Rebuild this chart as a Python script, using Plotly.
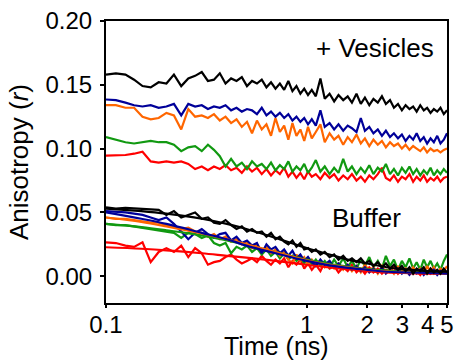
import plotly.graph_objects as go
import math

# Time grid (ns)
time = [0.100, 0.112, 0.125, 0.138, 0.152, 0.167, 0.183, 0.200, 0.218, 0.237,
        0.257, 0.278, 0.300, 0.322, 0.345, 0.369, 0.394, 0.420, 0.447, 0.475,
        0.504, 0.534, 0.565, 0.597, 0.630, 0.664, 0.699, 0.735, 0.772, 0.810,
        0.849, 0.889, 0.930, 0.972, 1.015, 1.06, 1.11, 1.17, 1.23, 1.30,
        1.37, 1.44, 1.52, 1.60, 1.68, 1.77, 1.86, 1.95, 2.05, 2.15,
        2.26, 2.37, 2.48, 2.60, 2.72, 2.85, 2.98, 3.11, 3.25, 3.39,
        3.53, 3.68, 3.83, 3.98, 4.14, 4.30, 4.47, 4.64, 4.82, 5.00]

# + Vesicles
ves_black = [0.158, 0.159, 0.158, 0.154, 0.149, 0.148, 0.152, 0.151, 0.158, 0.149,
             0.155, 0.157, 0.160, 0.153, 0.154, 0.159, 0.151, 0.155, 0.153, 0.156,
             0.149, 0.153, 0.151, 0.154, 0.148, 0.152, 0.147, 0.151, 0.146, 0.153,
             0.145, 0.149, 0.143, 0.147, 0.142, 0.146, 0.141, 0.155, 0.139, 0.143,
             0.137, 0.142, 0.138, 0.141, 0.136, 0.143, 0.135, 0.140, 0.134, 0.139,
             0.136, 0.141, 0.135, 0.138, 0.132, 0.135, 0.130, 0.134, 0.131, 0.133,
             0.129, 0.134, 0.130, 0.132, 0.128, 0.131, 0.129, 0.132, 0.127, 0.130]
ves_blue = [0.1385, 0.138, 0.136, 0.134, 0.133, 0.134, 0.132, 0.133, 0.135, 0.126,
            0.135, 0.133, 0.134, 0.131, 0.133, 0.132, 0.134, 0.130, 0.132, 0.129,
            0.131, 0.130, 0.127, 0.132, 0.126, 0.129, 0.125, 0.128, 0.124, 0.127,
            0.122, 0.125, 0.121, 0.124, 0.119, 0.123, 0.118, 0.130, 0.117, 0.120,
            0.115, 0.119, 0.114, 0.118, 0.116, 0.113, 0.124, 0.114, 0.117, 0.112,
            0.115, 0.110, 0.114, 0.109, 0.112, 0.108, 0.111, 0.106, 0.110, 0.107,
            0.112, 0.106, 0.109, 0.104, 0.108, 0.105, 0.110, 0.104, 0.107, 0.112]
ves_orange = [0.134, 0.134, 0.132, 0.132, 0.125, 0.123, 0.124, 0.128, 0.126, 0.115,
              0.131, 0.125, 0.126, 0.124, 0.127, 0.122, 0.125, 0.120, 0.123, 0.117,
              0.121, 0.112, 0.122, 0.115, 0.119, 0.110, 0.124, 0.113, 0.118, 0.107,
              0.120, 0.110, 0.115, 0.106, 0.117, 0.108, 0.113, 0.119, 0.105, 0.112,
              0.107, 0.110, 0.103, 0.109, 0.105, 0.111, 0.104, 0.108, 0.102, 0.107,
              0.103, 0.106, 0.101, 0.105, 0.102, 0.104, 0.100, 0.103, 0.099, 0.102,
              0.100, 0.098, 0.101, 0.097, 0.100, 0.098, 0.099, 0.097, 0.099, 0.100]
ves_green = [0.109, 0.107, 0.105, 0.104, 0.105, 0.106, 0.105, 0.105, 0.103, 0.098,
             0.101, 0.102, 0.098, 0.103, 0.099, 0.094, 0.086, 0.092, 0.086, 0.089,
             0.084, 0.090, 0.086, 0.088, 0.084, 0.089, 0.083, 0.087, 0.084, 0.090,
             0.082, 0.086, 0.083, 0.088, 0.081, 0.085, 0.091, 0.082, 0.086, 0.080,
             0.085, 0.081, 0.092, 0.082, 0.086, 0.080, 0.085, 0.081, 0.087, 0.080,
             0.085, 0.082, 0.088, 0.080, 0.084, 0.079, 0.085, 0.081, 0.086, 0.080,
             0.084, 0.079, 0.083, 0.080, 0.085, 0.079, 0.083, 0.080, 0.084, 0.081]
ves_red = [0.0945, 0.0945, 0.095, 0.096, 0.0975, 0.090, 0.089, 0.090, 0.089, 0.090,
           0.088, 0.084, 0.086, 0.083, 0.086, 0.084, 0.087, 0.083, 0.085, 0.081,
           0.086, 0.082, 0.085, 0.080, 0.084, 0.079, 0.083, 0.080, 0.085, 0.078,
           0.082, 0.077, 0.081, 0.076, 0.082, 0.078, 0.080, 0.076, 0.081, 0.077,
           0.080, 0.075, 0.079, 0.076, 0.080, 0.075, 0.078, 0.074, 0.079, 0.076,
           0.080, 0.085, 0.077, 0.075, 0.079, 0.074, 0.078, 0.076, 0.080, 0.074,
           0.078, 0.075, 0.079, 0.074, 0.077, 0.075, 0.078, 0.074, 0.077, 0.078]

# Buffer (data)
buf_black = [0.054, 0.053, 0.0535, 0.053, 0.053, 0.0525, 0.052, 0.048, 0.051, 0.046,
             0.048, 0.050, 0.045, 0.046, 0.042, 0.041, 0.044, 0.040, 0.037, 0.039,
             0.035, 0.037, 0.034, 0.035, 0.031, 0.034, 0.029, 0.031, 0.027, 0.025,
             0.028, 0.023, 0.026, 0.021, 0.022, 0.019, 0.021, 0.017, 0.019, 0.015,
             0.017, 0.013, 0.016, 0.012, 0.014, 0.011, 0.014, 0.010, 0.012, 0.008,
             0.011, 0.007, 0.010, 0.006, 0.009, 0.005, 0.008, 0.004, 0.007, 0.002,
             0.006, 0.004, 0.007, 0.002, 0.006, 0.003, 0.005, 0.002, 0.006, 0.003]
buf_blue = [0.051, 0.0505, 0.050, 0.049, 0.048, 0.046, 0.044, 0.046, 0.041, 0.035,
            0.029, 0.034, 0.037, 0.033, 0.030, 0.033, 0.034, 0.028, 0.031, 0.026,
            0.028, 0.024, 0.026, 0.018, 0.025, 0.021, 0.023, 0.018, 0.021, 0.016,
            0.020, 0.014, 0.017, 0.012, 0.015, 0.011, 0.008, 0.013, 0.009, 0.012,
            0.007, 0.010, 0.006, 0.009, 0.005, 0.008, 0.004, 0.007, 0.003, 0.006,
            0.003, 0.007, 0.002, 0.005, 0.003, 0.006, 0.002, 0.005, 0.001, 0.004,
            0.002, 0.005, 0.001, 0.004, 0.002, 0.005, 0.001, 0.004, 0.002, 0.003]
buf_orange = [0.046, 0.045, 0.045, 0.044, 0.043, 0.042, 0.042, 0.040, 0.039, 0.037,
              0.038, 0.035, 0.034, 0.031, 0.033, 0.029, 0.031, 0.027, 0.029, 0.025,
              0.027, 0.022, 0.025, 0.020, 0.023, 0.018, 0.021, 0.016, 0.019, 0.013,
              0.010, 0.017, 0.012, 0.015, 0.009, 0.013, 0.008, 0.012, 0.007, 0.011,
              0.006, 0.010, 0.005, 0.009, 0.004, 0.008, 0.003, 0.009, 0.004, 0.007,
              0.002, 0.008, 0.003, 0.006, 0.002, 0.008, 0.003, 0.006, 0.002, 0.007,
              0.003, 0.006, 0.002, 0.008, 0.003, 0.007, 0.002, 0.006, 0.004, 0.008]
buf_green = [0.041, 0.040, 0.040, 0.039, 0.038, 0.037, 0.036, 0.035, 0.034, 0.030,
             0.034, 0.033, 0.030, 0.032, 0.026, 0.024, 0.026, 0.018, 0.023, 0.021,
             0.024, 0.019, 0.022, 0.017, 0.021, 0.016, 0.019, 0.014, 0.018, 0.013,
             0.016, 0.012, 0.015, 0.010, 0.014, 0.009, 0.013, 0.008, 0.012, 0.007,
             0.013, 0.008, 0.014, 0.007, 0.012, 0.006, 0.013, 0.008, 0.015, 0.007,
             0.012, 0.006, 0.016, 0.008, 0.013, 0.005, 0.012, 0.007, 0.014, 0.006,
             0.011, 0.005, 0.013, 0.007, 0.012, 0.006, 0.010, 0.005, 0.012, 0.017]
buf_red = [0.0265, 0.026, 0.024, 0.023, 0.0265, 0.011, 0.019, 0.022, 0.019, 0.024,
           0.015, 0.022, 0.018, 0.009, 0.011, 0.012, 0.015, 0.017, 0.013, 0.010,
           0.012, 0.014, 0.011, 0.016, 0.012, 0.009, 0.013, 0.010, 0.014, 0.007,
           0.012, 0.009, 0.013, 0.006, 0.010, 0.005, 0.009, 0.004, 0.011, 0.006,
           0.008, 0.003, 0.007, 0.004, 0.009, 0.003, 0.006, 0.002, 0.007, 0.003,
           0.006, 0.002, 0.005, 0.004, 0.007, 0.002, 0.005, 0.003, 0.006, 0.002,
           0.004, 0.001, 0.005, 0.003, 0.006, 0.002, 0.004, 0.002, 0.005, 0.003]

# Buffer (fits)
fit_time = [0.1, 0.15, 0.2, 0.3, 0.4, 0.5, 0.7, 1.0, 1.3, 1.6, 2.0, 2.5, 3.0, 4.0, 5.0]
fit_black = [0.053, 0.051, 0.049, 0.045, 0.041, 0.037, 0.030, 0.022, 0.017, 0.013, 0.010, 0.007, 0.0055, 0.004, 0.0035]
fit_blue = [0.050, 0.045, 0.041, 0.034, 0.029, 0.024, 0.018, 0.012, 0.0085, 0.0065, 0.005, 0.0035, 0.003, 0.0025, 0.002]
fit_orange = [0.046, 0.0425, 0.039, 0.0335, 0.029, 0.025, 0.019, 0.0125, 0.009, 0.007, 0.005, 0.0038, 0.003, 0.0025, 0.002]
fit_green = [0.041, 0.0385, 0.036, 0.032, 0.028, 0.0245, 0.019, 0.013, 0.0095, 0.0075, 0.0055, 0.0045, 0.0035, 0.003, 0.0025]
fit_red = [0.0227, 0.0215, 0.0203, 0.018, 0.016, 0.0145, 0.012, 0.009, 0.0068, 0.0055, 0.004, 0.003, 0.0025, 0.002, 0.002]

x_tickvals = [0.1, 1, 2, 3, 4, 5]
x_ticktext = ["0.1", "1", "2", "3", "4", "5"]
x_minorvals = [0.2, 0.3, 0.4, 0.5, 0.6, 0.7, 0.8, 0.9]
y_tickvals = [0.00, 0.05, 0.10, 0.15, 0.20]
y_ticktext = ["0.00", "0.05", "0.10", "0.15", "0.20"]

BLACK = "#000000"
BLUE = "#000099"
ORANGE = "#ff6600"
GREEN = "#119911"
RED = "#ff0000"

FONT = "Liberation Sans, Arial, sans-serif"
LW = 2.2

fig = go.Figure()

def add_line(x, y, color, width=LW, shape="linear"):
    fig.add_trace(go.Scatter(x=x, y=y, mode="lines",
                             line=dict(color=color, width=width, shape=shape),
                             showlegend=False, hoverinfo="skip"))

# Vesicle traces
for ys, c in [(ves_red, RED), (ves_green, GREEN), (ves_orange, ORANGE),
              (ves_blue, BLUE), (ves_black, BLACK)]:
    add_line(time, ys, c)

# Buffer data
for ys, c in [(buf_red, RED), (buf_green, GREEN), (buf_orange, ORANGE), (buf_blue, BLUE)]:
    add_line(time, ys, c)
# Buffer fits
for ys, c in [(fit_red, RED), (fit_green, GREEN), (fit_orange, ORANGE), (fit_blue, BLUE)]:
    add_line(fit_time, ys, c, shape="spline")
add_line(time, buf_black, BLACK)
add_line(fit_time, fit_black, BLACK, shape="spline")

xr = [math.log10(0.1), math.log10(5)]
yr = [-0.021, 0.20]

fig.update_layout(
    width=454, height=362,
    margin=dict(l=106, r=7, t=21, b=59),
    paper_bgcolor="white", plot_bgcolor="white",
    font=dict(family=FONT, size=24, color="black"),
    xaxis=dict(type="log", range=xr, showgrid=False, zeroline=False, automargin=False,
               showline=True, linecolor="black", linewidth=2, mirror=True,
               tickvals=x_tickvals, ticktext=x_ticktext,
               ticks="outside", ticklen=3, tickwidth=2, tickcolor="black",
               ticklabelstandoff=-4,
               tickfont=dict(size=24)),
    yaxis=dict(range=yr, showgrid=False, zeroline=False, automargin=False,
               showline=True, linecolor="black", linewidth=2, mirror=True,
               tickvals=y_tickvals, ticktext=y_ticktext,
               ticks="outside", ticklen=4, tickwidth=2, tickcolor="black",
               ticklabelstandoff=3,
               tickfont=dict(size=24)),
    xaxis2=dict(type="log", range=xr, overlaying="x", anchor="y", automargin=False,
                showgrid=False, zeroline=False, showline=False,
                tickvals=x_tickvals, ticktext=["" for _ in x_tickvals],
                ticks="inside", ticklen=5, tickwidth=2, tickcolor="black",
                minor=dict(tickvals=x_minorvals, ticks="inside", ticklen=5,
                           tickwidth=2, tickcolor="black"),
                side="bottom"),
    yaxis2=dict(range=yr, overlaying="y", anchor="x", automargin=False,
                showgrid=False, zeroline=False, showline=False,
                tickvals=y_tickvals, ticktext=["" for _ in y_tickvals],
                ticks="inside", ticklen=4, tickwidth=2, tickcolor="black",
                side="left"),
    annotations=[
        dict(text="+ Vesicles", x=0.79, y=0.905, xref="paper", yref="paper",
             xanchor="center", yanchor="middle", showarrow=False,
             font=dict(size=26, family=FONT)),
        dict(text="Buffer", x=0.765, y=0.30, xref="paper", yref="paper",
             xanchor="center", yanchor="middle", showarrow=False,
             font=dict(size=26, family=FONT)),
        dict(text="Time (ns)", x=0.5, y=-0.209, xref="paper", yref="paper",
             xanchor="center", yanchor="bottom", showarrow=False,
             font=dict(size=25, family=FONT)),
        dict(text="Anisotropy (<i>r</i>)", x=-0.255, y=0.5, xref="paper", yref="paper",
             xanchor="center", yanchor="middle", showarrow=False, textangle=-90,
             font=dict(size=26, family=FONT)),
    ],
)

fig.write_html("out.html")
